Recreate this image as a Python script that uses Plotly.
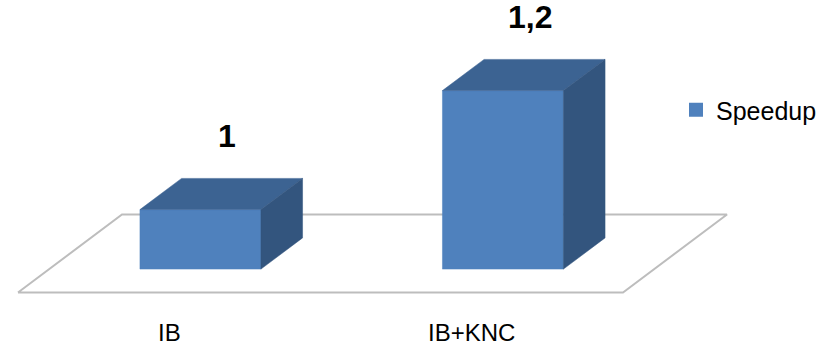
import plotly.graph_objects as go

# ---- data ----
categories = ["IB", "IB+KNC"]
speedup = [1.0, 1.2]
value_labels = ["1", "1,2"]
series_name = "Speedup"

# ---- 3D look (oblique projection) ----
VMIN = 0.9            # value-axis floor
KX = 104 / 302.5      # x shift per unit of depth (category units)
KY = 78 / 595         # y shift per unit of depth (value units)
BAR_W = 0.4
Z0, Z1 = 0.3, 0.7     # bar depth span inside the floor (0..1)

FRONT = "#4F81BD"
TOP = "#3C6392"
SIDE = "#33557E"
FLOOR_LINE = "#BDBDBD"
FONT = "Liberation Sans, Arial, sans-serif"


def proj(x, v, z):
    return x + KX * z, v + KY * z


def poly(pts, fill, line_color, line_width):
    xs, ys = zip(*[proj(*p) for p in pts])
    xs = list(xs) + [xs[0]]
    ys = list(ys) + [ys[0]]
    return go.Scatter(x=xs, y=ys, mode="lines", fill="toself",
                      fillcolor=fill, line=dict(color=line_color, width=line_width),
                      hoverinfo="skip", showlegend=False)


fig = go.Figure()

# floor
n = len(categories)
fx0, fx1 = -0.5, n - 0.5
fig.add_trace(poly([(fx0, VMIN, 0), (fx1, VMIN, 0), (fx1, VMIN, 1), (fx0, VMIN, 1)],
                   "white", FLOOR_LINE, 2))

# bars
for i, v in enumerate(speedup):
    x0, x1 = i - BAR_W / 2, i + BAR_W / 2
    fig.add_trace(poly([(x0, VMIN, Z0), (x1, VMIN, Z0), (x1, v, Z0), (x0, v, Z0)],
                       FRONT, FRONT, 0.5))
    fig.add_trace(poly([(x0, v, Z0), (x1, v, Z0), (x1, v, Z1), (x0, v, Z1)],
                       TOP, TOP, 0.5))
    fig.add_trace(poly([(x1, VMIN, Z0), (x1, VMIN, Z1), (x1, v, Z1), (x1, v, Z0)],
                       SIDE, SIDE, 0.5))
    # value label above the bar
    lx, ly = proj(i, v, 0.5)
    fig.add_annotation(x=lx, y=ly, xref="x", yref="y", text=value_labels[i],
                       showarrow=False, xanchor="center", yanchor="middle",
                       xshift=6, yshift=58,
                       font=dict(family=FONT, size=32, color="black", weight="bold"))
    # category label under the floor
    cx, cy = proj(i, VMIN, 0)
    fig.add_annotation(x=cx, y=cy, xref="x", yref="y", text=categories[i],
                       showarrow=False, xanchor="center", yanchor="middle",
                       yshift=-40, font=dict(family=FONT, size=24, color="black"))

# legend entry
fig.add_trace(go.Scatter(x=[None], y=[None], mode="markers", name=series_name,
                         marker=dict(symbol="square", size=14, color=FRONT),
                         showlegend=True))

fig.update_layout(
    width=834, height=347,
    margin=dict(l=0, r=0, t=0, b=0),
    paper_bgcolor="white", plot_bgcolor="white",
    xaxis=dict(range=[-169.25 / 302.5, (834 - 169.25) / 302.5], visible=False,
               fixedrange=True),
    yaxis=dict(range=[VMIN - 54.5 / 595, VMIN + 292.5 / 595], visible=False,
               fixedrange=True),
    legend=dict(x=676 / 834, xanchor="left", y=(347 - 110) / 347, yanchor="middle",
                font=dict(family=FONT, size=25, color="black"),
                bgcolor="rgba(0,0,0,0)", borderwidth=0),
    font=dict(family=FONT),
)

fig.write_html("out.html")
